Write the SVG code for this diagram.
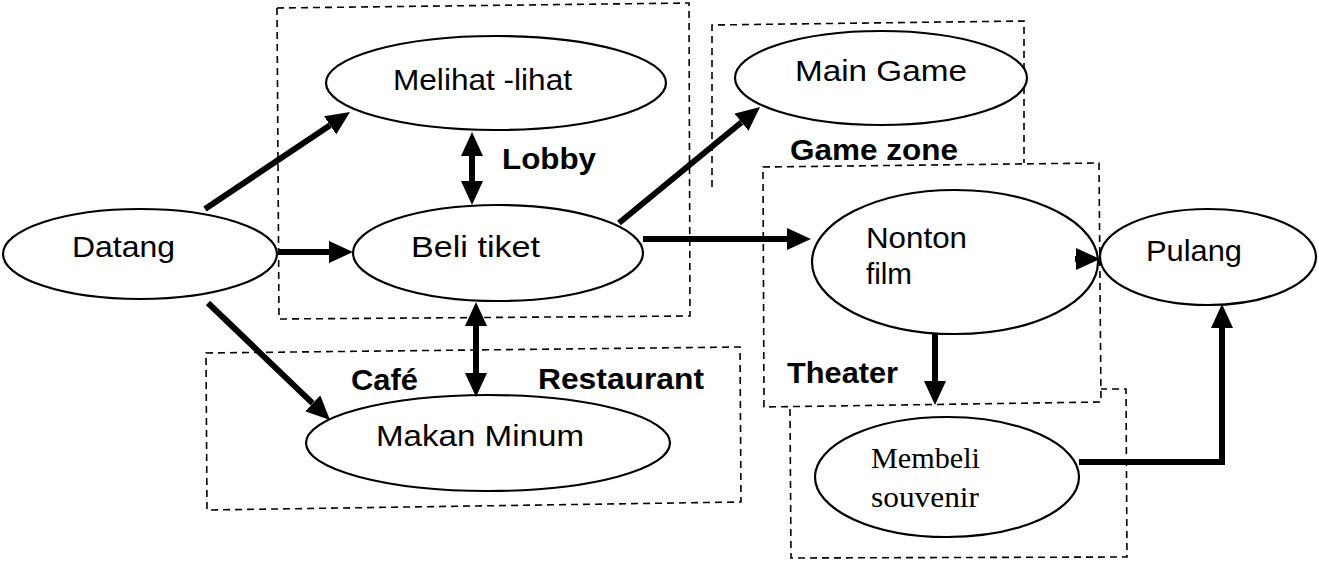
<svg xmlns="http://www.w3.org/2000/svg" width="1319" height="563" viewBox="0 0 1319 563">
<defs>
<style>
.bg{fill:#fff}
.zone{fill:none;stroke:#000;stroke-width:1.6;stroke-dasharray:7 5}
.node{fill:#fff;stroke:#000;stroke-width:2.2}
.t{font-family:"Liberation Sans",Arial,sans-serif;font-size:30px;fill:#000}
.s{font-family:"Liberation Serif","Times New Roman",serif;font-size:29px;fill:#000}
.b{font-family:"Liberation Sans",Arial,sans-serif;font-size:30px;font-weight:bold;fill:#000}
.c{fill:none;stroke:#000;stroke-width:6;marker-end:url(#ah)}
.d{fill:none;stroke:#000;stroke-width:6;marker-end:url(#ah);marker-start:url(#ahs)}
</style>
<marker id="ah" viewBox="0 0 24 22" refX="0" refY="11" markerWidth="24" markerHeight="22" markerUnits="userSpaceOnUse" orient="auto"><path d="M0,0 L24,11 L0,22 z" fill="#000"/></marker>
<marker id="ahs" viewBox="0 0 24 22" refX="0" refY="11" markerWidth="24" markerHeight="22" markerUnits="userSpaceOnUse" orient="auto-start-reverse"><path d="M0,0 L24,11 L0,22 z" fill="#000"/></marker>
</defs>
<rect class="bg" x="0" y="0" width="1319" height="563"/>
<g id="zones">
<path class="zone" d="M277,8 L689,3 L690,316 L279,319 Z"/>
<path class="zone" d="M712,187 L712,25 L1024,21 L1024,163"/>
<path class="zone" d="M206,353 L740,347 L741,502 L207,510 Z"/>
<path class="zone" d="M763,167 L1099,163 L1101,402 L764,407 Z"/>
<path class="zone" d="M790,409 L791,558 L1127,557 L1126,389 L1101,389"/>
</g>
<g id="labels">
<text class="b" x="502" y="169" textLength="94" lengthAdjust="spacingAndGlyphs">Lobby</text>
<text class="b" x="790" y="160" textLength="168" lengthAdjust="spacingAndGlyphs">Game zone</text>
<text class="b" x="351" y="390" textLength="67" lengthAdjust="spacingAndGlyphs">Café</text>
<text class="b" x="538" y="389" textLength="166" lengthAdjust="spacingAndGlyphs">Restaurant</text>
<text class="b" x="787" y="383" textLength="111" lengthAdjust="spacingAndGlyphs">Theater</text>
</g>
<g id="datang"><ellipse class="node" cx="140" cy="254" rx="137" ry="45"/><text class="t" x="72" y="257" textLength="103" lengthAdjust="spacingAndGlyphs">Datang</text></g>
<g id="melihat"><ellipse class="node" cx="496" cy="83" rx="170" ry="47"/><text class="t" x="393" y="90" textLength="179" lengthAdjust="spacingAndGlyphs">Melihat -lihat</text></g>
<g id="beli"><ellipse class="node" cx="498" cy="253" rx="145" ry="48"/><text class="t" x="411" y="257" textLength="129" lengthAdjust="spacingAndGlyphs">Beli  tiket</text></g>
<g id="maingame"><ellipse class="node" cx="881" cy="78" rx="146" ry="47"/><text class="t" x="795" y="81" textLength="172" lengthAdjust="spacingAndGlyphs">Main  Game</text></g>
<g id="nonton"><ellipse class="node" cx="955" cy="262" rx="143" ry="72"/><text class="t" x="866" y="248" textLength="101" lengthAdjust="spacingAndGlyphs">Nonton</text><text class="t" x="866" y="284" textLength="46" lengthAdjust="spacingAndGlyphs">film</text></g>
<g id="pulang"><ellipse class="node" cx="1208" cy="257" rx="108" ry="48"/><text class="t" x="1146" y="261" textLength="96" lengthAdjust="spacingAndGlyphs">Pulang</text></g>
<g id="makan"><ellipse class="node" cx="488" cy="443" rx="182" ry="48"/><text class="t" x="376" y="446" textLength="208" lengthAdjust="spacingAndGlyphs">Makan  Minum</text></g>
<g id="membeli"><ellipse class="node" cx="947" cy="477" rx="132" ry="60"/><text class="s" x="871" y="468" textLength="109" lengthAdjust="spacingAndGlyphs">Membeli</text><text class="s" x="871" y="507" textLength="108" lengthAdjust="spacingAndGlyphs">souvenir</text></g>
<g id="connectors">
<path class="c" d="M205,209 L330.1,125.3"/>
<path class="c" d="M279,252 L329,252"/>
<path class="c" d="M208,303 L312.7,403.4"/>
<path class="d" d="M472,156 L472,181"/>
<path class="d" d="M476,326 L476,373"/>
<path class="c" d="M619,223 L741.5,122.2"/>
<path class="c" d="M643,239 L787,239"/>
<path class="c" d="M1075,259 L1076,259"/>
<path class="c" d="M935,334 L935,381"/>
<path class="c" d="M1079,462 L1222,462 L1222,328"/>
</g>
</svg>
